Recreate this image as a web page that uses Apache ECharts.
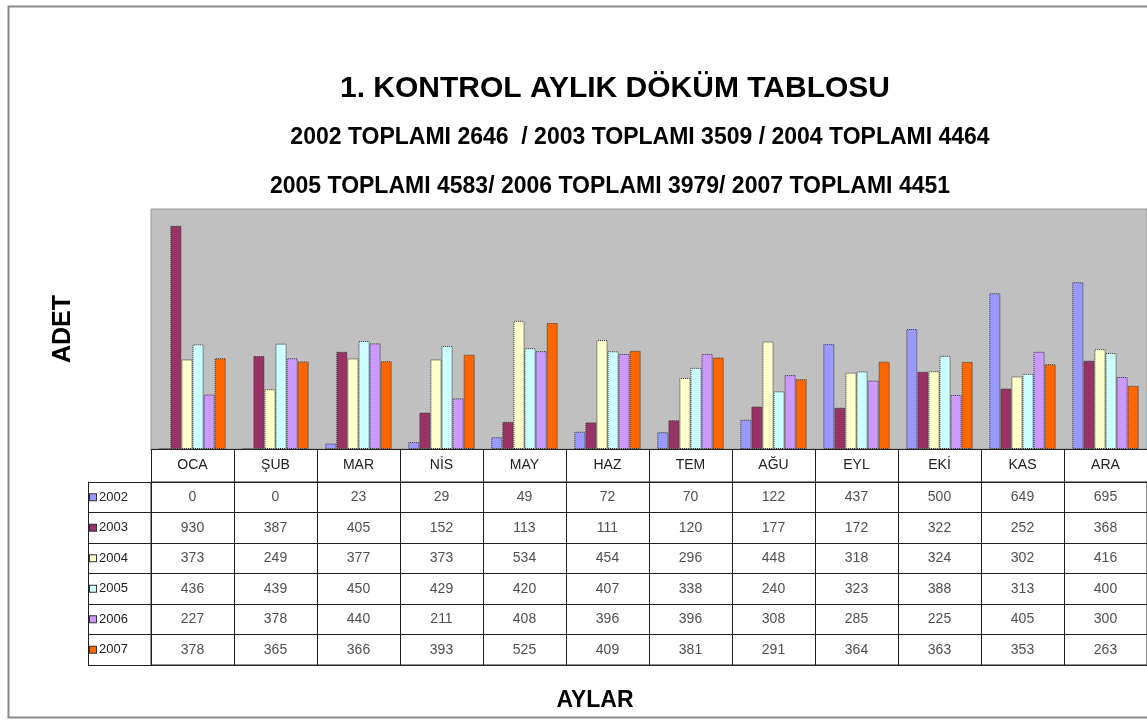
<!DOCTYPE html>
<html>
<head>
<meta charset="utf-8">
<script src="https://cdn.jsdelivr.net/npm/echarts@6/dist/echarts.min.js"></script>
<style>
html, body { margin: 0; padding: 0; background: #fff; }
#chart { width: 1147px; height: 720px; }
</style>
</head>
<body>
<div id="chart"></div>
<script>
// aylar ve yillar
const months = ['OCA', 'ŞUB', 'MAR', 'NİS', 'MAY', 'HAZ', 'TEM', 'AĞU', 'EYL', 'EKİ', 'KAS', 'ARA']
const years = ['2002', '2003', '2004', '2005', '2006', '2007']
const colors = ['#9999FF', '#993366', '#FFFFCC', '#CCFFFF', '#CC99FF', '#FF6600']

const d2002 = [0, 0, 23, 29, 49, 72, 70, 122, 437, 500, 649, 695]
const d2003 = [930, 387, 405, 152, 113, 111, 120, 177, 172, 322, 252, 368]
const d2004 = [373, 249, 377, 373, 534, 454, 296, 448, 318, 324, 302, 416]
const d2005 = [436, 439, 450, 429, 420, 407, 338, 240, 323, 388, 313, 400]
const d2006 = [227, 378, 440, 211, 408, 396, 396, 308, 285, 225, 405, 300]
const d2007 = [378, 365, 366, 393, 525, 409, 381, 291, 364, 363, 353, 263]
const allData = [d2002, d2003, d2004, d2005, d2006, d2007]

const font = 'Liberation Sans, Arial, sans-serif'

// tablo hucreleri
const cells = []
allData.forEach((row, j) => {
	row.forEach((v, i) => cells.push([i, j, v]))
})

const rich = {}
colors.forEach((c, i) => {
	rich['c' + i] = {
		width: 6, height: 6, backgroundColor: c,
		borderColor: '#333', borderWidth: 1, padding: 0,
	}
})
rich.t = { fontSize: 13, color: '#222', fontFamily: font, padding: [0, 0, 0, 3] }

const myChart = echarts.init(document.getElementById('chart'))

const barSeries = years.map((y, k) => ({
	name: y,
	type: 'bar',
	xAxisIndex: 0,
	yAxisIndex: 0,
	data: allData[k],
	barGap: '0%',
	barCategoryGap: '20%',
	itemStyle: {
		color: colors[k],
		borderColor: '#333',
		borderWidth: 1,
		borderType: [1, 1],
	},
	silent: true,
}))

const option = {
	backgroundColor: '#fff',
	animation: false,
	title: [
		{
			text: '1. KONTROL AYLIK DÖKÜM TABLOSU',
			left: 610, top: 69, textAlign: 'center',
			textStyle: { fontFamily: font, fontSize: 30, fontWeight: 'bold', color: '#000' },
		},
		{
			text: '2002 TOPLAMI 2646  / 2003 TOPLAMI 3509 / 2004 TOPLAMI 4464',
			left: 635, top: 121, textAlign: 'center',
			textStyle: { fontFamily: font, fontSize: 23, fontWeight: 'bold', color: '#000' },
		},
		{
			text: '2005 TOPLAMI 4583/ 2006 TOPLAMI 3979/ 2007 TOPLAMI 4451',
			left: 605, top: 170, textAlign: 'center',
			textStyle: { fontFamily: font, fontSize: 23, fontWeight: 'bold', color: '#000' },
		},
		{
			text: 'AYLAR',
			left: 590, top: 684, textAlign: 'center',
			textStyle: { fontFamily: font, fontSize: 23, fontWeight: 'bold', color: '#000' },
		},
	],
	graphic: [
		{
			type: 'rect',
			shape: { x: 8.5, y: 6.5, width: 1160, height: 711 },
			style: { fill: null, stroke: '#888', lineWidth: 2 },
			silent: true,
		},
	],
	grid: [
		{
			left: 151, top: 209, width: 996, height: 240,
			show: true, backgroundColor: '#C0C0C0',
			borderColor: '#999', borderWidth: 1,
		},
		{
			left: 151, top: 482, width: 996, height: 183,
			show: true, borderColor: '#222', borderWidth: 1,
		},
	],
	xAxis: [
		{
			gridIndex: 0, type: 'category', data: months,
			axisLine: { show: true, lineStyle: { color: '#222' } },
			axisTick: { show: false },
			axisLabel: { show: false },
		},
		{
			gridIndex: 1, type: 'category', data: months, position: 'top',
			axisLine: { show: true, lineStyle: { color: '#222' } },
			axisTick: { show: true, length: 33, interval: 0, lineStyle: { color: '#222' } },
			axisLabel: { interval: 0, margin: 10, fontSize: 14, color: '#222', fontFamily: font },
			splitLine: { show: true, interval: 0, lineStyle: { color: '#222' } },
		},
	],
	yAxis: [
		{
			gridIndex: 0, type: 'value', min: 0, max: 1000,
			axisLine: { show: false }, axisTick: { show: false },
			axisLabel: { show: false }, splitLine: { show: false },
			name: 'ADET', nameLocation: 'middle', nameRotate: 90, nameGap: 75,
			nameTextStyle: { fontFamily: font, fontSize: 25, fontWeight: 'bold', color: '#000' },
		},
		{
			gridIndex: 1, type: 'category', data: years, inverse: true,
			axisLine: { show: true, lineStyle: { color: '#222' } },
			axisTick: { show: true, length: 63, interval: 0, lineStyle: { color: '#222' } },
			axisLabel: {
				interval: 0, align: 'left', margin: 61,
				formatter: (v, i) => '{c' + i + '|}{t|' + v + '}',
				rich: rich,
			},
			splitLine: { show: true, interval: 0, lineStyle: { color: '#222' } },
		},
		{
			gridIndex: 1, type: 'category', data: years, inverse: true,
			position: 'left', offset: 63,
			axisLine: { show: true, lineStyle: { color: '#222' } },
			axisTick: { show: false }, axisLabel: { show: false },
		},
	],
	series: [
		...barSeries,
		{
			type: 'scatter',
			xAxisIndex: 1,
			yAxisIndex: 1,
			data: cells,
			symbolSize: 1,
			itemStyle: { color: 'rgba(0,0,0,0)' },
			label: {
				show: true, position: 'inside',
				formatter: (p) => String(p.value[2]),
				fontSize: 14, color: '#222', fontFamily: font,
			},
			silent: true,
		},
	],
}

myChart.setOption(option)
</script>
</body>
</html>
